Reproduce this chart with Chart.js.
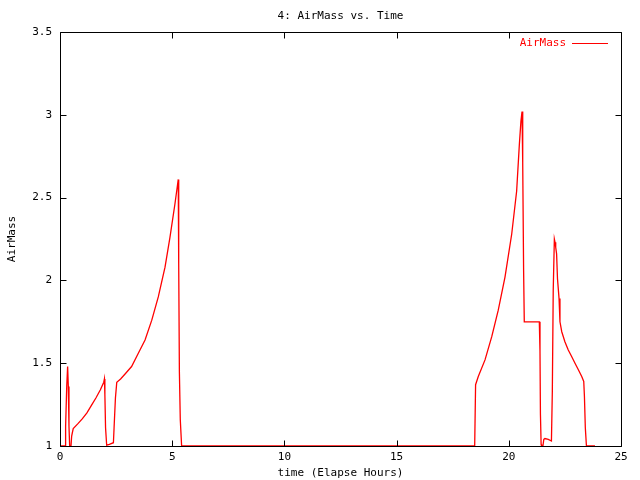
<!DOCTYPE html>
<html>
<head>
<meta charset="utf-8">
<script src="https://cdn.jsdelivr.net/npm/chart.js@4/dist/chart.umd.min.js"></script>
<style>
html,body{margin:0;padding:0;background:#fff;}
canvas{display:block;}
</style>
</head>
<body>
<canvas id="c" width="640" height="480"></canvas>
<script>
const chartTitle = "4: AirMass vs. Time";
const xTitle = "time (Elapse Hours)";
const yTitle = "AirMass";
const seriesName = "AirMass";
const xTicks = [0, 5, 10, 15, 20, 25];
const yTicks = [1, 1.5, 2, 2.5, 3, 3.5];
const yTickLabels = ["1", "1.5", "2", "2.5", "3", "3.5"];

const times = [
  0, 0.23, 0.25, 0.30, 0.34, 0.37, 0.40, 0.43, 0.49, 0.52, 0.55, 0.59,
  0.8, 1.0, 1.2, 1.4, 1.6, 1.8, 1.95, 1.98, 2.00, 2.03, 2.08, 2.2, 2.38,
  2.41, 2.47, 2.53, 2.7, 2.9, 3.19, 3.49, 3.79, 4.09, 4.38, 4.68, 4.90,
  5.12, 5.23, 5.27, 5.29, 5.32, 5.36, 5.42,
  18.48, 18.52, 18.64, 18.94, 19.24, 19.53, 19.83, 20.13, 20.35, 20.47,
  20.54, 20.59, 20.62, 20.66, 20.69, 21.36, 21.39, 21.41, 21.44, 21.46,
  21.52, 21.56, 21.61, 21.76, 21.90, 21.94, 21.98, 22.03, 22.06, 22.09,
  22.13, 22.17, 22.24, 22.28, 22.36, 22.50, 22.65, 22.80, 22.95, 23.10,
  23.25, 23.34, 23.37, 23.41, 23.46, 23.84
];
const airmass = [
  1.0, 1.0, 1.12, 1.36, 1.48, 1.36, 1.12, 1.0, 1.0, 1.06, 1.08, 1.105,
  1.135, 1.165, 1.20, 1.245, 1.29, 1.34, 1.385, 1.405, 1.31, 1.11, 1.005, 1.01, 1.02,
  1.11, 1.29, 1.385, 1.405, 1.435, 1.48, 1.56, 1.64, 1.76, 1.90, 2.08, 2.26,
  2.46, 2.57, 2.61, 2.10, 1.45, 1.16, 1.0,
  1.0, 1.37, 1.42, 1.52, 1.66, 1.82, 2.02, 2.28, 2.54, 2.82,
  2.96, 3.02, 2.71, 2.06, 1.75, 1.75, 1.57, 1.19, 1.01, 1.0,
  1.0, 1.04, 1.045, 1.04, 1.03, 1.33, 1.94, 2.25, 2.23, 2.20,
  2.16, 2.01, 1.89, 1.75, 1.69, 1.63, 1.58, 1.54, 1.50, 1.46,
  1.42, 1.39, 1.30, 1.11, 1.0, 1.0
];

const FONT = "'DejaVu Sans Mono', monospace";
const points = times.map((t, i) => ({x: t, y: airmass[i]}));

const decor = {
  id: 'decor',
  afterDraw(chart) {
    const ctx = chart.ctx;
    const a = chart.chartArea;
    const xs = chart.scales.x, ys = chart.scales.y;
    ctx.save();
    ctx.strokeStyle = '#000';
    ctx.lineWidth = 1;
    const L = Math.round(a.left) + 0.5, R = Math.round(a.right) + 0.5;
    const T = Math.round(a.top) + 0.5, B = Math.round(a.bottom) + 0.5;
    ctx.beginPath();
    ctx.rect(L, T, R - L, B - T);
    const tl = 6;
    xTicks.forEach(v => {
      const px = Math.round(xs.getPixelForValue(v)) + 0.5;
      ctx.moveTo(px, B); ctx.lineTo(px, B - tl);
      ctx.moveTo(px, T); ctx.lineTo(px, T + tl);
    });
    yTicks.forEach(v => {
      const py = Math.round(ys.getPixelForValue(v)) + 0.5;
      ctx.moveTo(L, py); ctx.lineTo(L + tl, py);
      ctx.moveTo(R, py); ctx.lineTo(R - tl, py);
    });
    ctx.stroke();

    ctx.fillStyle = '#000';
    ctx.font = "11px " + FONT;
    ctx.textAlign = 'center';
    ctx.textBaseline = 'middle';
    ctx.fillText(chartTitle, (a.left + a.right) / 2, 16);
    ctx.fillText(xTitle, (a.left + a.right) / 2, 473);
    ctx.save();
    ctx.translate(12, (a.top + a.bottom) / 2);
    ctx.rotate(-Math.PI / 2);
    ctx.fillText(yTitle, 0, 0);
    ctx.restore();

    // legend
    ctx.fillStyle = '#ff0000';
    ctx.textAlign = 'right';
    ctx.fillText(seriesName, 566, 43);
    ctx.strokeStyle = '#ff0000';
    ctx.beginPath();
    ctx.moveTo(572, 43.5); ctx.lineTo(608, 43.5);
    ctx.stroke();
    ctx.restore();
  }
};

new Chart(document.getElementById('c'), {
  type: 'scatter',
  data: {
    datasets: [{
      label: seriesName,
      data: points,
      showLine: true,
      borderColor: '#ff0000',
      backgroundColor: '#ff0000',
      borderWidth: 1.3,
      pointRadius: 0,
      tension: 0
    }]
  },
  options: {
    responsive: false,
    animation: false,
    devicePixelRatio: 1,
    layout: {padding: {left: 0, top: 32, right: 19, bottom: 0}},
    plugins: {legend: {display: false}, tooltip: {enabled: false}, title: {display: false}},
    scales: {
      x: {
        type: 'linear', min: 0, max: 25,
        afterFit: s => { s.height = 34; },
        afterBuildTicks: s => { s.ticks = xTicks.map(v => ({value: v})); },
        grid: {display: false, drawTicks: false},
        border: {display: false},
        ticks: {font: {family: FONT, size: 11}, color: '#000', padding: 5, maxRotation: 0,
          callback: (v, i) => String(xTicks[i])}
      },
      y: {
        type: 'linear', min: 1, max: 3.5,
        afterFit: s => { s.width = 60; },
        afterBuildTicks: s => { s.ticks = yTicks.map(v => ({value: v})); },
        grid: {display: false, drawTicks: false},
        border: {display: false},
        ticks: {font: {family: FONT, size: 11}, color: '#000', padding: 8,
          callback: (v, i) => yTickLabels[i]}
      }
    }
  },
  plugins: [decor]
});
</script>
</body>
</html>
